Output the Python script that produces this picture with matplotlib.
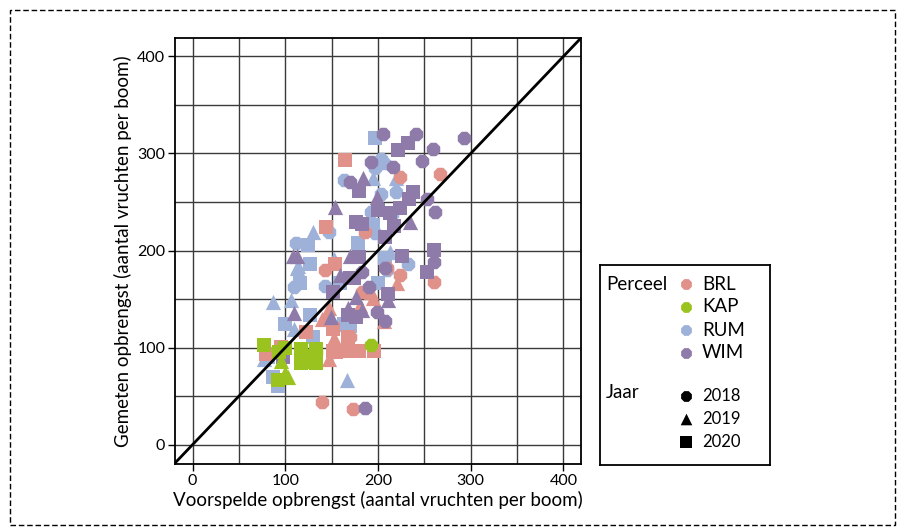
import matplotlib
matplotlib.use("Agg")
import matplotlib.pyplot as plt
from matplotlib.patches import Rectangle

plt.rcParams["font.family"] = ["Lato", "DejaVu Sans"]

brl_2018 = [(267, 279), (224, 276), (186, 219), (143, 180), (183, 157), (170, 111),
            (140, 44), (173, 37), (260, 168), (224, 175), (210, 182)]
brl_2019 = [(221, 167), (195, 151), (206, 127), (147, 141), (140, 129), (151, 108),
            (147, 88), (181, 144), (192, 157), (145, 132), (154, 108)]
brl_2020 = [(164, 293), (144, 224), (154, 186), (122, 116), (151, 119), (151, 96),
            (167, 96), (179, 96), (196, 96), (79, 93), (95, 101), (168, 111), (155, 95)]

kap_2018 = [(192, 103), (125, 92), (133, 95)]
kap_2019 = [(103, 70), (100, 74), (95, 86)]
kap_2020 = [(77, 103), (93, 95), (92, 67), (117, 99), (133, 99), (117, 84),
            (133, 84), (100, 100), (128, 85)]

rum_2018 = [(203, 294), (206, 290), (197, 285), (219, 260), (203, 258), (192, 240),
            (197, 218), (232, 186), (163, 273), (111, 208), (147, 219), (109, 162),
            (143, 163), (215, 238), (210, 180)]
rum_2019 = [(195, 275), (219, 275), (130, 219), (114, 184), (152, 191), (87, 147),
            (106, 149), (109, 119), (160, 124), (77, 88), (167, 67), (213, 198), (113, 182)]
rum_2020 = [(197, 316), (195, 226), (208, 192), (124, 206), (127, 186), (178, 208),
            (116, 167), (127, 134), (100, 124), (130, 111), (87, 70), (92, 60),
            (200, 167), (170, 122), (159, 167), (163, 124), (81, 90)]

wim_2018 = [(205, 320), (241, 320), (293, 316), (259, 305), (248, 292), (192, 291),
            (216, 286), (253, 253), (262, 240), (260, 188), (170, 271), (183, 178),
            (186, 38), (208, 182), (190, 162), (199, 137), (208, 127)]
wim_2019 = [(199, 255), (235, 229), (184, 275), (154, 245), (108, 194), (113, 194),
            (170, 194), (159, 175), (176, 152), (183, 139), (109, 136), (211, 149),
            (168, 141), (149, 131)]
wim_2020 = [(222, 304), (232, 311), (238, 260), (233, 253), (200, 242), (213, 239),
            (224, 244), (217, 225), (208, 214), (226, 194), (260, 201), (180, 261),
            (176, 229), (183, 227), (179, 193), (151, 157), (170, 172), (168, 134),
            (211, 155), (253, 178), (174, 172), (176, 132), (98, 90)]

percelen = ["BRL", "KAP", "RUM", "WIM"]
jaren = ["2018", "2019", "2020"]
data = {
    "BRL": [brl_2018, brl_2019, brl_2020],
    "KAP": [kap_2018, kap_2019, kap_2020],
    "RUM": [rum_2018, rum_2019, rum_2020],
    "WIM": [wim_2018, wim_2019, wim_2020],
}
ticks = [0, 100, 200, 300, 400]

colors = {"BRL": "#E0918A", "KAP": "#9BC320", "RUM": "#9DB1D9", "WIM": "#8E7BAA"}
markers = {"2018": "8", "2019": "^", "2020": "s"}
sizes = {"2018": 110, "2019": 120, "2020": 105}

W, H = 904, 529
fig = plt.figure(figsize=(W / 100, H / 100), dpi=100)

# dashed frame around everything
fig.patches.append(Rectangle((10 / W, 1 - 525 / H), 885 / W, 515 / H, transform=fig.transFigure,
                             fill=False, ls=(0, (4, 2)), lw=1, ec="black"))

ax = fig.add_axes([175 / W, 1 - 464 / H, 406 / W, 426 / H])
ax.set_xlim(-19, 419)
ax.set_ylim(-20, 419)
for v in range(0, 401, 50):
    ax.axvline(v, color="#3a3a3a", lw=1, zorder=0)
    ax.axhline(v, color="#3a3a3a", lw=1, zorder=0)

for p in ["RUM", "BRL", "WIM", "KAP"]:
    for j, pts in zip(jaren, data[p]):
        xs = [a for a, b in pts]
        ys = [b for a, b in pts]
        ax.scatter(xs, ys, marker=markers[j], s=sizes[j], color=colors[p], lw=0, zorder=2)

ax.plot([-20, 420], [-20, 420], color="black", lw=2, zorder=3)

ax.set_xticks(ticks)
ax.set_yticks(ticks)
ax.tick_params(direction="out", length=5, width=1, labelsize=11.5, pad=2)
for s in ax.spines.values():
    s.set_linewidth(1.3)
ax.set_xlabel("Voorspelde opbrengst (aantal vruchten per boom)", fontsize=13.5, labelpad=2)
ax.set_ylabel("Gemeten opbrengst (aantal vruchten per boom)", fontsize=13.5, labelpad=4)

# legend box drawn in pixel-like coordinates
lax = fig.add_axes([600 / W, 1 - 465 / H, 170 / W, 200 / H])
lax.set_xlim(0, 170)
lax.set_ylim(200, 0)
lax.set_xticks([])
lax.set_yticks([])
for s in lax.spines.values():
    s.set_linewidth(1.3)

lax.text(6, 19, "Perceel", fontsize=13.5, va="center")
for i, p in enumerate(percelen):
    y = 19 + i * 23
    lax.scatter([86], [y], marker="8", s=70, color=colors[p], lw=0)
    lax.text(102, y, p, fontsize=13.5, va="center")
lax.text(6, 128, "Jaar", fontsize=13.5, va="center")
for i, j in enumerate(jaren):
    y = 131 + i * 23
    lax.scatter([86], [y], marker=markers[j], s=70, color="black", lw=0)
    lax.text(102, y, j, fontsize=12, va="center")

fig.savefig("out.png", dpi=100)
